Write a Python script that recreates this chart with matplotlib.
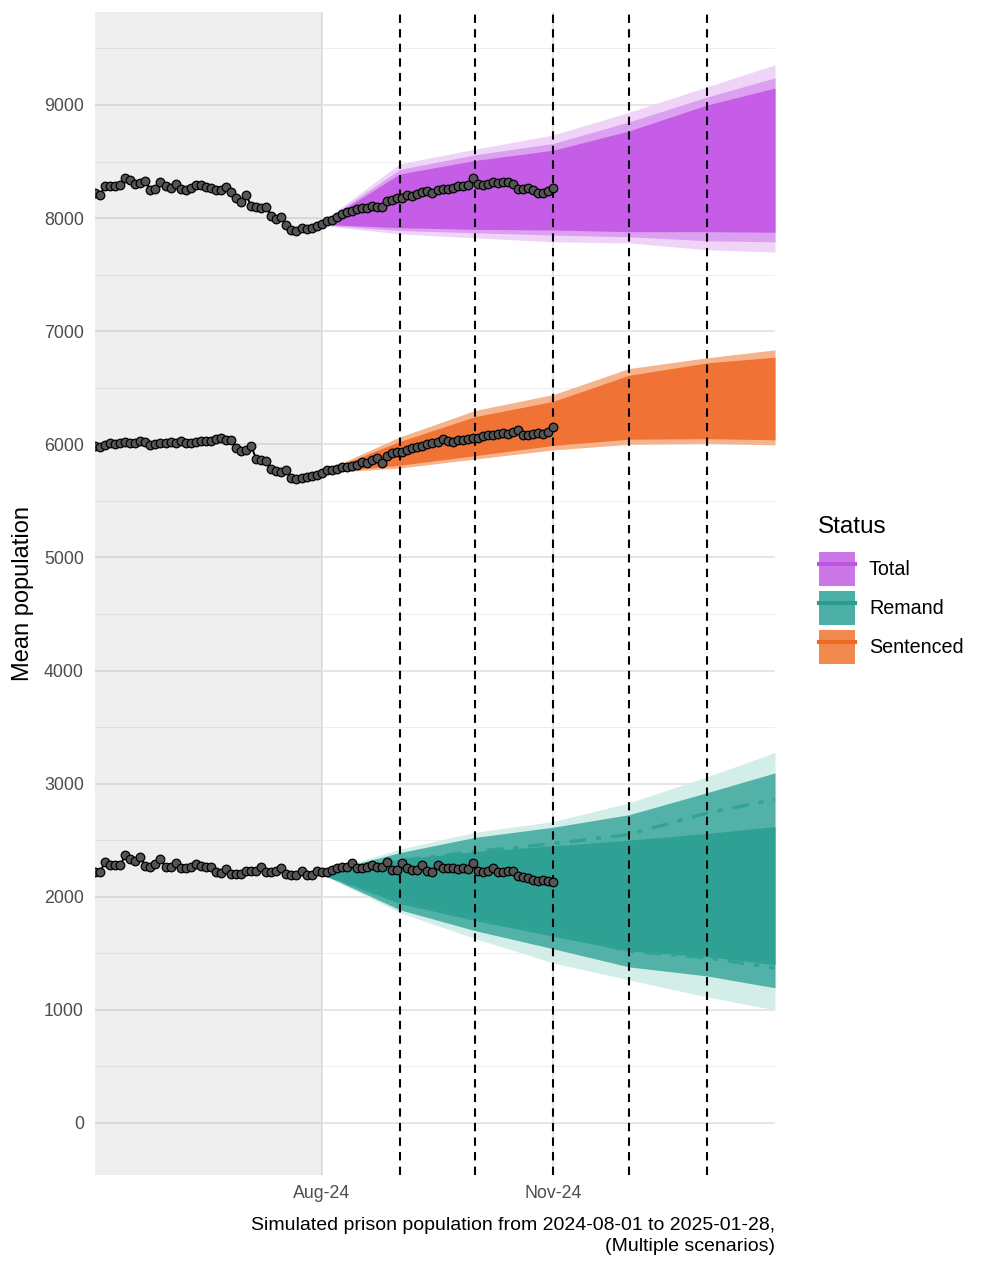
import matplotlib
matplotlib.use("Agg")
import matplotlib.pyplot as plt
from matplotlib.patches import Patch
from matplotlib.lines import Line2D
import numpy as np
import pandas as pd

plt.rcParams['font.family'] = ['Liberation Sans', 'DejaVu Sans']

## data
# observed daily population (every 2nd day shown), from 2024-05-03
obs_dates = pd.date_range('2024-05-03', periods=92, freq='2D')

total_obs = [8220, 8205, 8280, 8285, 8280, 8290, 8355, 8340, 8300, 8310,
             8325, 8250, 8255, 8320, 8280, 8265, 8300, 8260, 8250, 8265,
             8295, 8290, 8275, 8270, 8250, 8245, 8275, 8230, 8180, 8140,
             8200, 8110, 8095, 8090, 8100, 8020, 7990, 8010, 7940, 7895,
             7890, 7915, 7900, 7910, 7930, 7950, 7975, 7985, 8010, 8040,
             8050, 8060, 8080, 8090, 8085, 8110, 8100, 8095, 8150, 8160,
             8175, 8180, 8200, 8195, 8210, 8230, 8240, 8225, 8250, 8260,
             8255, 8270, 8285, 8280, 8290, 8350, 8300, 8290, 8300, 8320,
             8310, 8320, 8315, 8300, 8260, 8255, 8270, 8250, 8225, 8220,
             8240, 8270]

sentenced_obs = [5985, 5980, 5995, 6010, 6005, 6015, 6020, 6010, 6010, 6025,
                 6020, 5990, 6005, 6010, 6015, 6020, 6010, 6025, 6010, 6015,
                 6020, 6030, 6025, 6030, 6045, 6060, 6040, 6035, 5970, 5945,
                 5950, 5985, 5870, 5860, 5855, 5780, 5760, 5755, 5770, 5700,
                 5695, 5700, 5710, 5720, 5730, 5750, 5770, 5775, 5780, 5800,
                 5795, 5810, 5820, 5840, 5835, 5860, 5880, 5835, 5900, 5925,
                 5935, 5930, 5950, 5965, 5975, 5985, 6000, 6010, 6020, 6045,
                 6025, 6020, 6035, 6040, 6050, 6055, 6060, 6075, 6080, 6085,
                 6095, 6100, 6095, 6105, 6125, 6085, 6080, 6090, 6100, 6095,
                 6110, 6150]

remand_obs = [2220, 2220, 2305, 2285, 2280, 2280, 2365, 2330, 2320, 2350,
              2270, 2260, 2290, 2330, 2265, 2260, 2295, 2255, 2250, 2260,
              2290, 2270, 2265, 2260, 2215, 2210, 2245, 2200, 2205, 2200,
              2230, 2225, 2225, 2265, 2220, 2215, 2225, 2250, 2200, 2195,
              2195, 2225, 2195, 2190, 2230, 2215, 2220, 2235, 2255, 2265,
              2260, 2300, 2255, 2250, 2260, 2285, 2265, 2260, 2305, 2240,
              2235, 2295, 2250, 2240, 2235, 2280, 2225, 2220, 2280, 2250,
              2255, 2250, 2245, 2250, 2245, 2300, 2225, 2215, 2230, 2250,
              2220, 2215, 2225, 2230, 2180, 2175, 2170, 2150, 2140, 2150,
              2135, 2130]

# simulated fans (outer / mid / inner quantile bands) at month nodes
sim_dates = pd.to_datetime(['2024-08-01', '2024-09-01', '2024-10-01', '2024-11-01',
                            '2024-12-01', '2025-01-01', '2025-01-28'])

total_outer_hi = [7965, 8480, 8610, 8735, 8935, 9160, 9355]
total_outer_lo = [7935, 7860, 7825, 7790, 7780, 7720, 7700]
total_mid_hi = [7960, 8430, 8560, 8660, 8850, 9070, 9240]
total_mid_lo = [7940, 7890, 7870, 7850, 7835, 7800, 7790]
total_inner_hi = [7955, 8390, 8510, 8600, 8770, 9000, 9150]
total_inner_lo = [7945, 7915, 7900, 7895, 7880, 7880, 7875]

sent_outer_hi = [5755, 6065, 6300, 6440, 6670, 6765, 6835]
sent_outer_lo = [5745, 5790, 5870, 5950, 6000, 6010, 5995]
sent_inner_hi = [5752, 6025, 6245, 6380, 6610, 6720, 6770]
sent_inner_lo = [5750, 5815, 5900, 5990, 6045, 6050, 6040]

rem_outer_hi = [2215, 2420, 2570, 2665, 2830, 3060, 3275]
rem_outer_lo = [2200, 1860, 1630, 1415, 1265, 1115, 1000]
rem_mid_hi = [2212, 2390, 2525, 2615, 2725, 2920, 3095]
rem_mid_lo = [2203, 1885, 1700, 1540, 1380, 1300, 1195]
rem_inner_hi = [2210, 2330, 2400, 2450, 2500, 2560, 2620]
rem_inner_lo = [2205, 1940, 1790, 1650, 1520, 1470, 1400]
rem_med_hi = [2210, 2320, 2400, 2470, 2550, 2740, 2860]
rem_med_lo = [2205, 1960, 1800, 1680, 1520, 1460, 1370]

# reporting month starts
month_lines = pd.to_datetime(['2024-09-01', '2024-10-01', '2024-11-01',
                              '2024-12-01', '2025-01-01'])

statuses = ['Total', 'Remand', 'Sentenced']
key_fill = {'Total': '#CC77E8', 'Remand': '#4DB0A6', 'Sentenced': '#F28A50'}
key_line = {'Total': '#BE55E2', 'Remand': '#2A9D8F', 'Sentenced': '#EE6A24'}

## plot!
fig = plt.figure(figsize=(9.98, 12.66), dpi=100)
ax = fig.add_axes([95/998, 1 - 1175/1266, 680/998, 1163/1266])

x0 = pd.Timestamp('2024-05-03')
x1 = pd.Timestamp('2025-01-28')
sim_start = pd.Timestamp('2024-08-01')

# grid
for v in range(0, 10000, 1000):
    ax.axhline(v, color='#E6E6E6', lw=1.4, zorder=0)
for v in range(500, 10000, 1000):
    ax.axhline(v, color='#EEEEEE', lw=0.7, zorder=0)
for d in ['2024-08-01', '2024-11-01']:
    ax.axvline(pd.Timestamp(d), color='#E6E6E6', lw=1.4, zorder=0)

# historic shading
ax.axvspan(x0, sim_start, color='grey', alpha=0.12, lw=0, zorder=1)

# fans
ax.fill_between(sim_dates, total_outer_lo, total_outer_hi, color='#EFD4F8', lw=0, zorder=2)
ax.fill_between(sim_dates, total_mid_lo, total_mid_hi, color='#DBA0F0', lw=0, zorder=2)
ax.fill_between(sim_dates, total_inner_lo, total_inner_hi, color='#C55DE6', lw=0, zorder=2)

ax.fill_between(sim_dates, sent_outer_lo, sent_outer_hi, color='#F6B48C', lw=0, zorder=2)
ax.fill_between(sim_dates, sent_inner_lo, sent_inner_hi, color='#F07234', lw=0, zorder=2)

ax.fill_between(sim_dates, rem_outer_lo, rem_outer_hi, color='#D3EDE9', lw=0, zorder=2)
ax.fill_between(sim_dates, rem_mid_lo, rem_mid_hi, color='#52B2A7', lw=0, zorder=2)
ax.fill_between(sim_dates, rem_inner_lo, rem_inner_hi, color='#2FA194', lw=0, zorder=2)
for med in [rem_med_hi, rem_med_lo]:
    ax.plot(sim_dates, med, color='#30A395', lw=2.4, ls=(0, (5, 3, 1.5, 3)), zorder=3)

# month markers
for d in month_lines:
    ax.axvline(d, color='black', lw=1.5, ls=(0, (4, 3)), zorder=4)

# observed
for obs in [total_obs, sentenced_obs, remand_obs]:
    ax.plot(obs_dates, obs, color='black', lw=1.4, zorder=5)
    ax.plot(obs_dates, obs, ls='none', marker='o', ms=6.2, mfc='#555555',
            mec='black', mew=0.9, zorder=6)

## pretty~
ax.set_xlim(x0, x1)
ax.set_ylim(-460, 9822)
ax.set_yticks(range(0, 10000, 1000))
ax.set_xticks(pd.to_datetime(['2024-08-01', '2024-11-01']))
ax.set_xticklabels(['Aug-24', 'Nov-24'])
ax.tick_params(length=0, labelsize=12.8, labelcolor='#4D4D4D')
ax.tick_params(axis='y', pad=8)
ax.tick_params(axis='x', pad=7)
for s in ax.spines.values():
    s.set_visible(False)
ax.set_ylabel('Mean population', fontsize=17, labelpad=7)

fig.text(775/998, 1 - 1217/1266,
         'Simulated prison population from 2024-08-01 to 2025-01-28,\n(Multiple scenarios)',
         ha='right', va='top', multialignment='right', fontsize=14, linespacing=1.3)

# legend
fig.text(818/998, 1 - 527/1266, 'Status', ha='left', va='center', fontsize=17.5)
handles = [(Patch(facecolor=key_fill[s], edgecolor='none'),
            Line2D([], [], color=key_line[s], lw=3)) for s in statuses]
fig.legend(handles, statuses, loc='upper left',
           bbox_to_anchor=(819/998, 1 - 552/1266), frameon=False,
           fontsize=14.2, handlelength=1.83, handleheight=2.3, labelspacing=0.24,
           handletextpad=0.7, borderpad=0, borderaxespad=0)

fig.savefig('out.png', dpi=100)
